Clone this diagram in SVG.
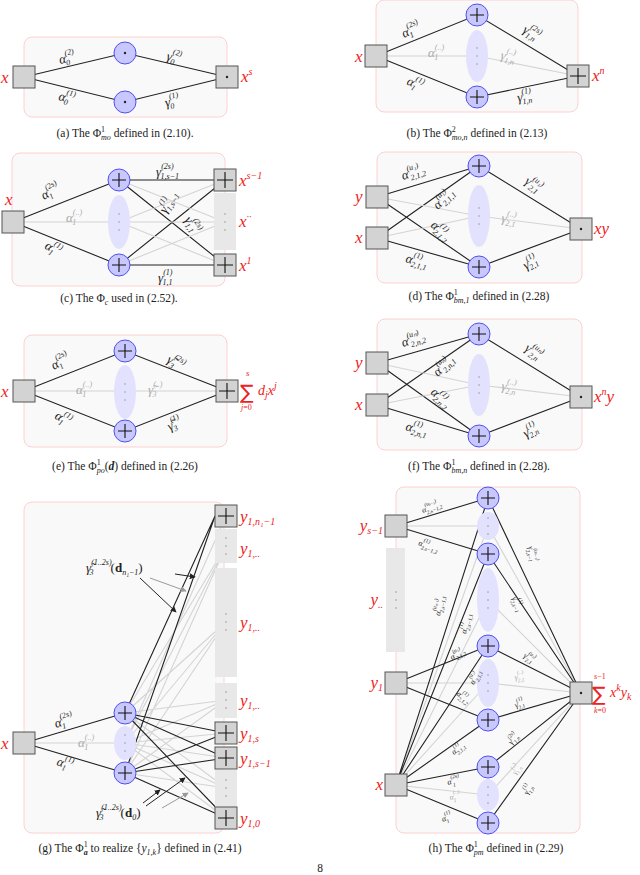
<svg xmlns="http://www.w3.org/2000/svg" width="640" height="875" viewBox="0 0 640 875">
<style>
.bx{fill:#f9f9f9;stroke:#ffd0d0;stroke-width:1}
.k{stroke:#222;stroke-width:1.1;fill:none}
.g{stroke:#d4d4d4;stroke-width:1.1;fill:none}
.ci{fill:#c8c8ff;stroke:#5050f0;stroke-width:1}
.el{fill:#e2e2ff;stroke:none}
.sq{fill:#d3d3d3;stroke:#555;stroke-width:1}
.gr{fill:#e8e8e8;stroke:none}
.pl{stroke:#111;stroke-width:1.1}
.dt{fill:#999}
.m{font-family:"Liberation Serif",serif;font-style:italic;font-size:13px;fill:#222}
.mg{font-family:"Liberation Serif",serif;font-style:italic;font-size:13px;fill:#aaa}
.s{font-size:8px}
.h{font-family:"Liberation Serif",serif;font-style:italic;font-size:8px;fill:#222}
.hg{font-family:"Liberation Serif",serif;font-style:italic;font-size:8px;fill:#aaa}
.t{font-size:5.5px}
.r{font-family:"Liberation Serif",serif;font-style:italic;font-size:17px;fill:#ee2222}
.rs{font-size:10px}
.cap{font-family:"Liberation Serif",serif;font-size:11.5px;fill:#222;text-anchor:middle}
.ar{stroke:#222;stroke-width:1;marker-end:url(#ah)}
.arg{stroke:#999;stroke-width:1;marker-end:url(#ahg)}
</style>
<defs>
<marker id="ah" viewBox="0 0 8 8" refX="7" refY="4" markerWidth="6" markerHeight="6" orient="auto"><path d="M0,0 L8,4 L0,8 z" fill="#222"/></marker>
<marker id="ahg" viewBox="0 0 8 8" refX="7" refY="4" markerWidth="6" markerHeight="6" orient="auto"><path d="M0,0 L8,4 L0,8 z" fill="#999"/></marker>
<g id="plusc"><circle class="ci" r="11"/><path class="pl" d="M-7,0H7M0,-7V7"/></g>
<g id="dotc"><circle class="ci" r="11"/><circle r="1.2" fill="#222"/></g>
<g id="sqe"><rect class="sq" x="-11" y="-11" width="22" height="22"/></g>
<g id="sqp"><rect class="sq" x="-11" y="-11" width="22" height="22"/><path class="pl" d="M-8,0H8M0,-8V8"/></g>
<g id="sqd"><rect class="sq" x="-11" y="-11" width="22" height="22"/><circle r="1.2" fill="#222"/></g>
<g id="dots"><circle class="dt" cy="-8" r="0.8"/><circle class="dt" r="0.8"/><circle class="dt" cy="8" r="0.8"/></g>
</defs>

<g id="boxes">
<rect class="bx" x="24" y="37" width="203" height="80" rx="8"/>
<rect class="bx" x="376" y="0" width="202" height="112" rx="8"/>
<rect class="bx" x="12" y="153" width="213" height="133" rx="8"/>
<rect class="bx" x="377" y="152" width="205" height="131" rx="8"/>
<rect class="bx" x="24" y="335" width="203" height="112" rx="8"/>
<rect class="bx" x="377" y="319" width="205" height="131" rx="8"/>
<rect class="bx" x="24" y="502" width="200" height="331" rx="8"/>
<rect class="bx" x="396" y="487" width="184" height="346" rx="8"/>
</g>

<g id="connectors">
<path class="k" d="M24,77L125,53L227,77L125,102Z"/>
<path class="k" d="M376,56L477,15L578,76L477,97Z"/>
<path class="g" d="M376,56L477,56L578,76"/>
<path class="k" d="M13,222L119,180M13,222L119,265M119,180L225,180M119,180L225,265M119,265L225,180M119,265L225,265"/>
<path class="g" d="M13,222L119,222M119,222L225,180M119,222L225,265M119,180L225,222M119,265L225,222M119,222L225,222"/>
<path class="k" d="M377,197L479,166M377,197L479,267M377,238L479,166M377,238L479,267M479,166L581,229M479,267L581,229"/>
<path class="g" d="M377,197L479,216M377,238L479,216M479,216L581,229"/>
<path class="k" d="M24,391L125,351L227,391L125,431Z"/>
<path class="g" d="M24,391L227,391"/>
<path class="k" d="M377,363L479,334M377,363L479,436M377,405L479,334M377,405L479,436M479,334L581,397M479,436L581,397"/>
<path class="g" d="M377,363L479,385M377,405L479,385M479,385L581,397"/>
<path class="g" d="M24,743L125,743M125,713L226,546M125,773L226,546M125,743L226,546M125,713L226,622M125,773L226,622M125,743L226,622M125,713L226,700M125,773L226,700M125,743L226,700M125,713L226,788M125,773L226,788M125,743L226,788M125,743L226,733M125,743L226,758M125,743L226,818M125,743L226,516"/>
<path class="k" d="M24,743L125,713M24,743L125,773M125,713L215,516M125,773L215,516M125,713L226,733M125,713L226,758M125,713L226,818M125,773L226,733M125,773L226,758M125,773L226,818"/>
<path class="g" d="M396,526L488,526M396,683L488,683M396,785L488,795M396,785L488,683M396,785L488,600M396,785L488,526M488,526L581,693M488,600L581,693M488,683L581,693M488,795L581,693"/>
<path class="k" d="M396,526L488,498M396,526L488,554M396,683L488,646M396,683L488,720M396,785L488,767M396,785L488,823M396,785L488,720M396,785L488,646M396,785L488,554M396,785L488,498M488,498L581,693M488,554L581,693M488,646L581,693M488,720L581,693M488,767L581,693M488,823L581,693"/>
<path class="ar" d="M175,574L195,577"/>
<path class="arg" d="M150,578L186,591"/>
<path class="ar" d="M140,578L176,612"/>
<path class="ar" d="M143,803L160,790"/>
<path class="ar" d="M146,806L185,778"/>
<path class="arg" d="M162,808L188,793"/>
</g>

<g id="a-nodes">
<use href="#sqe" x="24" y="77"/><use href="#dotc" x="125" y="53"/><use href="#dotc" x="125" y="102"/><use href="#sqd" x="227" y="77"/>
</g>
<g id="b-nodes">
<ellipse class="el" cx="477" cy="56" rx="11" ry="26"/><use href="#dots" x="477" y="56"/>
<use href="#sqe" x="376" y="56"/><use href="#plusc" x="477" y="15"/><use href="#plusc" x="477" y="97"/><use href="#sqp" x="578" y="76"/>
</g>
<g id="c-nodes">
<ellipse class="el" cx="119" cy="222" rx="11" ry="27"/><use href="#dots" x="119" y="222"/>
<rect class="gr" x="214" y="193" width="22" height="57"/><use href="#dots" x="225" y="222"/>
<use href="#sqe" x="13" y="222"/><use href="#plusc" x="119" y="180"/><use href="#plusc" x="119" y="265"/><use href="#sqp" x="225" y="180"/><use href="#sqp" x="225" y="265"/>
</g>
<g id="d-nodes">
<ellipse class="el" cx="479" cy="216" rx="11" ry="31"/><use href="#dots" x="479" y="216"/>
<use href="#sqe" x="377" y="197"/><use href="#sqe" x="377" y="238"/><use href="#plusc" x="479" y="166"/><use href="#plusc" x="479" y="267"/><use href="#sqd" x="581" y="229"/>
</g>
<g id="e-nodes">
<ellipse class="el" cx="125" cy="392" rx="11" ry="27"/><use href="#dots" x="125" y="392"/>
<use href="#sqe" x="24" y="391"/><use href="#plusc" x="125" y="351"/><use href="#plusc" x="125" y="431"/><use href="#sqp" x="227" y="391"/>
</g>
<g id="f-nodes">
<ellipse class="el" cx="479" cy="385" rx="11" ry="31"/><use href="#dots" x="479" y="385"/>
<use href="#sqe" x="377" y="363"/><use href="#sqe" x="377" y="405"/><use href="#plusc" x="479" y="334"/><use href="#plusc" x="479" y="436"/><use href="#sqd" x="581" y="397"/>
</g>
<g id="g-nodes">
<ellipse class="el" cx="125" cy="743" rx="11" ry="17"/><use href="#dots" x="125" y="743"/>
<rect class="gr" x="215" y="529" width="22" height="34"/><use href="#dots" x="226" y="546"/>
<rect class="gr" x="215" y="568" width="22" height="109"/><use href="#dots" x="226" y="622"/>
<rect class="gr" x="215" y="683" width="22" height="35"/><use href="#dots" x="226" y="700"/>
<rect class="gr" x="215" y="770" width="22" height="37"/><use href="#dots" x="226" y="788"/>
<use href="#sqe" x="24" y="743"/><use href="#plusc" x="125" y="713"/><use href="#plusc" x="125" y="773"/>
<use href="#sqp" x="226" y="516"/><use href="#sqp" x="226" y="733"/><use href="#sqp" x="226" y="758"/><use href="#sqp" x="226" y="818"/>
</g>
<g id="h-nodes">
<ellipse class="el" cx="488" cy="526" rx="11" ry="14"/><use href="#dots" x="488" y="526"/>
<ellipse class="el" cx="488" cy="600" rx="11" ry="32"/><use href="#dots" x="488" y="600"/>
<ellipse class="el" cx="488" cy="683" rx="11" ry="24"/><use href="#dots" x="488" y="683"/>
<ellipse class="el" cx="488" cy="795" rx="11" ry="16"/><use href="#dots" x="488" y="795"/>
<rect class="gr" x="386" y="548" width="19" height="104"/><use href="#dots" x="396" y="600"/>
<use href="#sqe" x="396" y="526"/><use href="#sqe" x="396" y="683"/><use href="#sqe" x="396" y="785"/>
<use href="#plusc" x="488" y="498"/><use href="#plusc" x="488" y="554"/><use href="#plusc" x="488" y="646"/><use href="#plusc" x="488" y="720"/><use href="#plusc" x="488" y="767"/><use href="#plusc" x="488" y="823"/>
<use href="#sqd" x="581" y="693"/>
</g>

<g id="labels">
<text class="r" x="1" y="83">x</text>
<text class="r" x="241" y="82">x<tspan class="rs" dy="-7">s</tspan></text>
<text class="m" x="60" y="64" transform="rotate(-13 60 64)">α<tspan class="s" dy="-7">(2)</tspan><tspan class="s" dx="-10" dy="10">0</tspan></text>
<text class="m" x="58" y="100" transform="rotate(13 58 100)">α<tspan class="s" dy="-7">(1)</tspan><tspan class="s" dx="-10" dy="10">0</tspan></text>
<text class="m" x="166" y="60" transform="rotate(13 166 60)">γ<tspan class="s" dy="-7">(2)</tspan><tspan class="s" dx="-10" dy="10">0</tspan></text>
<text class="m" x="166" y="107" transform="rotate(-13 166 107)">γ<tspan class="s" dy="-7">(1)</tspan><tspan class="s" dx="-10" dy="10">0</tspan></text>
<text class="cap" x="125" y="137">(a) The Φ<tspan font-size="8" dy="-5">1</tspan><tspan font-style="italic" font-size="8" dx="-4" dy="8">mo</tspan><tspan dy="-3"> defined in (2.10).</tspan></text>
<text class="r" x="355" y="62">x</text>
<text class="r" x="592" y="81">x<tspan class="rs" dy="-7">n</tspan></text>
<text class="m" x="404" y="38" transform="rotate(-25 404 38)">α<tspan class="s" dy="-7">(2s)</tspan><tspan class="s" dx="-13" dy="10">1</tspan></text>
<text class="mg" x="428" y="57">α<tspan class="s" dy="-7">(..)</tspan><tspan class="s" dx="-10" dy="10">1</tspan></text>
<text class="m" x="406" y="84" transform="rotate(25 406 84)">α<tspan class="s" dy="-7">(1)</tspan><tspan class="s" dx="-10" dy="10">1</tspan></text>
<text class="m" x="522" y="32" transform="rotate(30 522 32)">γ<tspan class="s" dy="-7">(2s)</tspan><tspan class="s" dx="-13" dy="10">1,n</tspan></text>
<text class="mg" x="500" y="59" transform="rotate(12 500 59)">γ<tspan class="s" dy="-7">(..)</tspan><tspan class="s" dx="-10" dy="10">1,n</tspan></text>
<text class="m" x="518" y="102" transform="rotate(-10 518 102)">γ<tspan class="s" dy="-7">(1)</tspan><tspan class="s" dx="-10" dy="10">1,n</tspan></text>
<text class="cap" x="477" y="137">(b) The Φ<tspan font-size="8" dy="-5">2</tspan><tspan font-style="italic" font-size="8" dx="-4" dy="8">mo,n</tspan><tspan dy="-3"> defined in (2.13)</tspan></text>
<text class="r" x="5" y="205">x</text>
<text class="r" x="239" y="186">x<tspan class="rs" dy="-7">s−1</tspan></text>
<text class="r" x="239" y="227">x<tspan class="rs" dy="-7">··</tspan></text>
<text class="r" x="239" y="271">x<tspan class="rs" dy="-7">1</tspan></text>
<text class="m" x="44" y="200" transform="rotate(-30 44 200)">α<tspan class="s" dy="-7">(2s)</tspan><tspan class="s" dx="-13" dy="10">1</tspan></text>
<text class="mg" x="66" y="222">α<tspan class="s" dy="-7">(..)</tspan><tspan class="s" dx="-10" dy="10">1</tspan></text>
<text class="m" x="44" y="248" transform="rotate(30 44 248)">α<tspan class="s" dy="-7">(1)</tspan><tspan class="s" dx="-10" dy="10">1</tspan></text>
<text class="m" x="156" y="176">γ<tspan class="s" dy="-7">(2s)</tspan><tspan class="s" dx="-13" dy="10">1,s−1</tspan></text>
<text class="m" x="158" y="282">γ<tspan class="s" dy="-7">(1)</tspan><tspan class="s" dx="-10" dy="10">1,1</tspan></text>
<text class="m" x="166" y="214" transform="rotate(-60 166 214)">γ<tspan class="s" dy="-7">(1)</tspan><tspan class="s" dx="-10" dy="10">1,s−1</tspan></text>
<text class="m" x="184" y="220" transform="rotate(55 184 220)">γ<tspan class="s" dy="-7">(2s)</tspan><tspan class="s" dx="-13" dy="10">1,1</tspan></text>
<text class="cap" x="119" y="302">(c) The Φ<tspan font-style="italic" font-size="8" dy="3">c</tspan><tspan dy="-3"> used in (2.52).</tspan></text>
<text class="r" x="355" y="202">y</text>
<text class="r" x="355" y="243">x</text>
<text class="r" x="594" y="234">xy</text>
<text class="m" x="403" y="180" transform="rotate(-18 403 180)">α<tspan class="s" dy="-7">(u₁)</tspan><tspan class="s" dx="-11" dy="10">2,1,2</tspan></text>
<text class="m" x="438" y="210" transform="rotate(-45 438 210)">α<tspan class="s" dy="-7">(u₁)</tspan><tspan class="s" dx="-11" dy="10">2,1,1</tspan></text>
<text class="m" x="430" y="226" transform="rotate(45 430 226)">α<tspan class="s" dy="-7">(1)</tspan><tspan class="s" dx="-10" dy="10">2,1,2</tspan></text>
<text class="m" x="405" y="262" transform="rotate(15 405 262)">α<tspan class="s" dy="-7">(1)</tspan><tspan class="s" dx="-10" dy="10">2,1,1</tspan></text>
<text class="m" x="524" y="183" transform="rotate(35 524 183)">γ<tspan class="s" dy="-7">(u₁)</tspan><tspan class="s" dx="-11" dy="10">2,1</tspan></text>
<text class="mg" x="501" y="222" transform="rotate(8 501 222)">γ<tspan class="s" dy="-7">(..)</tspan><tspan class="s" dx="-10" dy="10">2,1</tspan></text>
<text class="m" x="526" y="270" transform="rotate(-30 526 270)">γ<tspan class="s" dy="-7">(1)</tspan><tspan class="s" dx="-10" dy="10">2,1</tspan></text>
<text class="cap" x="479" y="300">(d) The Φ<tspan font-size="8" dy="-5">1</tspan><tspan font-style="italic" font-size="8" dx="-4" dy="8">bm,1</tspan><tspan dy="-3"> defined in (2.28)</tspan></text>
<text class="r" x="1" y="397">x</text>
<text x="240" y="399" font-family="DejaVu Sans,sans-serif" font-size="20" fill="#ee2222">∑</text>
<text class="r" x="246" y="376" style="font-size:9px">s</text>
<text class="r" x="241" y="410" style="font-size:8px;font-style:normal"><tspan font-style="italic">j</tspan>=0</text>
<text class="r" x="258" y="395" style="font-size:14px">d<tspan class="rs" dy="3">j</tspan><tspan dy="-3">x</tspan><tspan class="rs" dy="-6">j</tspan></text>
<text class="m" x="54" y="370" transform="rotate(-30 54 370)">α<tspan class="s" dy="-7">(2s)</tspan><tspan class="s" dx="-13" dy="10">1</tspan></text>
<text class="mg" x="76" y="394">α<tspan class="s" dy="-7">(..)</tspan><tspan class="s" dx="-10" dy="10">1</tspan></text>
<text class="m" x="54" y="418" transform="rotate(30 54 418)">α<tspan class="s" dy="-7">(1)</tspan><tspan class="s" dx="-10" dy="10">1</tspan></text>
<text class="m" x="166" y="362" transform="rotate(30 166 362)">γ̃<tspan class="s" dy="-7">(2s)</tspan><tspan class="s" dx="-13" dy="10">3</tspan></text>
<text class="mg" x="148" y="394">γ̃<tspan class="s" dy="-7">(..)</tspan><tspan class="s" dx="-10" dy="10">3</tspan></text>
<text class="m" x="170" y="431" transform="rotate(-28 170 431)">γ̃<tspan class="s" dy="-7">(1)</tspan><tspan class="s" dx="-10" dy="10">3</tspan></text>
<text class="cap" x="125" y="470">(e) The Φ<tspan font-size="8" dy="-5">1</tspan><tspan font-style="italic" font-size="8" dx="-4" dy="8">po</tspan><tspan dy="-3">(</tspan><tspan font-weight="bold" font-style="italic">d</tspan>) defined in (2.26)</text>
<text class="r" x="355" y="368">y</text>
<text class="r" x="355" y="410">x</text>
<text class="r" x="594" y="402">x<tspan class="rs" dy="-7">n</tspan><tspan dy="7">y</tspan></text>
<text class="m" x="403" y="347" transform="rotate(-18 403 347)">α<tspan class="s" dy="-7">(uₙ)</tspan><tspan class="s" dx="-11" dy="10">2,n,2</tspan></text>
<text class="m" x="438" y="377" transform="rotate(-45 438 377)">α<tspan class="s" dy="-7">(uₙ)</tspan><tspan class="s" dx="-11" dy="10">2,n,1</tspan></text>
<text class="m" x="430" y="393" transform="rotate(45 430 393)">α<tspan class="s" dy="-7">(1)</tspan><tspan class="s" dx="-10" dy="10">2,n,2</tspan></text>
<text class="m" x="405" y="430" transform="rotate(15 405 430)">α<tspan class="s" dy="-7">(1)</tspan><tspan class="s" dx="-10" dy="10">2,n,1</tspan></text>
<text class="m" x="524" y="350" transform="rotate(35 524 350)">γ<tspan class="s" dy="-7">(uₙ)</tspan><tspan class="s" dx="-11" dy="10">2,n</tspan></text>
<text class="mg" x="501" y="390" transform="rotate(8 501 390)">γ<tspan class="s" dy="-7">(..)</tspan><tspan class="s" dx="-10" dy="10">2,n</tspan></text>
<text class="m" x="526" y="438" transform="rotate(-30 526 438)">γ<tspan class="s" dy="-7">(1)</tspan><tspan class="s" dx="-10" dy="10">2,n</tspan></text>
<text class="cap" x="479" y="470">(f) The Φ<tspan font-size="8" dy="-5">1</tspan><tspan font-style="italic" font-size="8" dx="-4" dy="8">bm,n</tspan><tspan dy="-3"> defined in (2.28).</tspan></text>
<text class="r" x="1" y="749">x</text>
<text class="r" x="240" y="522">y<tspan class="rs" dy="3">1,n₁−1</tspan></text>
<text class="r" x="240" y="554">y<tspan class="rs" dy="3">1,..</tspan></text>
<text class="r" x="240" y="628">y<tspan class="rs" dy="3">1,..</tspan></text>
<text class="r" x="240" y="706">y<tspan class="rs" dy="3">1,..</tspan></text>
<text class="r" x="240" y="739">y<tspan class="rs" dy="3">1,s</tspan></text>
<text class="r" x="240" y="764">y<tspan class="rs" dy="3">1,s−1</tspan></text>
<text class="r" x="240" y="824">y<tspan class="rs" dy="3">1,0</tspan></text>
<text class="m" x="56" y="728" transform="rotate(-18 56 728)">α<tspan class="s" dy="-7">(2s)</tspan><tspan class="s" dx="-13" dy="10">1</tspan></text>
<text class="mg" x="78" y="747">α<tspan class="s" dy="-7">(..)</tspan><tspan class="s" dx="-10" dy="10">1</tspan></text>
<text class="m" x="56" y="765" transform="rotate(18 56 765)">α<tspan class="s" dy="-7">(1)</tspan><tspan class="s" dx="-10" dy="10">1</tspan></text>
<text class="m" x="86" y="572">γ̃<tspan class="s" dy="-7">(1..2s)</tspan><tspan class="s" dx="-22" dy="10">3</tspan><tspan dx="17" dy="-3" font-style="normal">(<tspan font-weight="bold">d</tspan></tspan><tspan class="s" dy="3">n₁−1</tspan><tspan dy="-3" font-style="normal">)</tspan></text>
<text class="m" x="96" y="817">γ̃<tspan class="s" dy="-7">(1..2s)</tspan><tspan class="s" dx="-22" dy="10">3</tspan><tspan dx="17" dy="-3" font-style="normal">(<tspan font-weight="bold">d</tspan></tspan><tspan class="s" dy="3">0</tspan><tspan dy="-3" font-style="normal">)</tspan></text>
<text class="cap" x="140" y="852">(g) The Φ<tspan font-size="8" dy="-5">1</tspan><tspan font-style="italic" font-weight="bold" font-size="8" dx="-4" dy="8">a</tspan><tspan dy="-3"> to realize {</tspan><tspan font-style="italic">y</tspan><tspan font-style="italic" font-size="8" dy="3">1,k</tspan><tspan dy="-3">} defined in (2.41)</tspan></text>
<text class="r" x="383" y="531" text-anchor="end">y<tspan class="rs" dy="3">s−1</tspan></text>
<text class="r" x="383" y="605" text-anchor="end">y<tspan class="rs" dy="3">..</tspan></text>
<text class="r" x="383" y="688" text-anchor="end">y<tspan class="rs" dy="3">1</tspan></text>
<text class="r" x="383" y="790" text-anchor="end">x</text>
<text x="592" y="701" font-family="DejaVu Sans,sans-serif" font-size="20" fill="#ee2222">∑</text>
<text class="r" x="594" y="679" style="font-size:8px;font-style:normal"><tspan font-style="italic">s</tspan>−1</text>
<text class="r" x="594" y="713" style="font-size:8px;font-style:normal"><tspan font-style="italic">k</tspan>=0</text>
<text class="r" x="610" y="697" style="font-size:14px">x<tspan class="rs" dy="-6">k</tspan><tspan dy="6">y</tspan><tspan class="rs" dy="3">k</tspan></text>
<text class="h" x="423" y="513" transform="rotate(-22 423 513)">α<tspan class="t" dy="-5">(uₛ₋₁)</tspan><tspan class="t" dx="-13" dy="8">2,s−1,2</tspan></text>
<text class="h" x="418" y="545" transform="rotate(18 418 545)">α<tspan class="t" dy="-5">(1)</tspan><tspan class="t" dx="-7" dy="8">2,s−1,2</tspan></text>
<text class="h" x="440" y="616" transform="rotate(-80 440 616)">α<tspan class="t" dy="-5">(uₛ₋₁)</tspan><tspan class="t" dx="-13" dy="8">2,s−1,1</tspan></text>
<text class="h" x="466" y="634" transform="rotate(-78 466 634)">α<tspan class="t" dy="-5">(1)</tspan><tspan class="t" dx="-7" dy="8">2,s−1,1</tspan></text>
<text class="h" x="452" y="660" transform="rotate(-30 452 660)">α<tspan class="t" dy="-5">(u₁)</tspan><tspan class="t" dx="-8" dy="8">2,1,2</tspan></text>
<text class="h" x="474" y="685" transform="rotate(-65 474 685)">α<tspan class="t" dy="-5">(u₁)</tspan><tspan class="t" dx="-8" dy="8">2,1,1</tspan></text>
<text class="h" x="456" y="695" transform="rotate(35 456 695)">α<tspan class="t" dy="-5">(1)</tspan><tspan class="t" dx="-7" dy="8">2,1,2</tspan></text>
<text class="h" x="454" y="755" transform="rotate(-40 454 755)">α<tspan class="t" dy="-5">(1)</tspan><tspan class="t" dx="-7" dy="8">2,1,1</tspan></text>
<text class="h" x="448" y="785" transform="rotate(-15 448 785)">α<tspan class="t" dy="-5">(2s)</tspan><tspan class="t" dx="-8" dy="8">1</tspan></text>
<text class="hg" x="450" y="800" transform="rotate(-10 450 800)">α<tspan class="t" dy="-5">(..)</tspan><tspan class="t" dx="-7" dy="8">1</tspan></text>
<text class="h" x="443" y="822" transform="rotate(-25 443 822)">α<tspan class="t" dy="-5">(1)</tspan><tspan class="t" dx="-7" dy="8">1</tspan></text>
<text class="h" x="528" y="547" transform="rotate(75 528 547)">γ<tspan class="t" dy="-5">(uₛ₋₁)</tspan><tspan class="t" dx="-13" dy="8">2,s−1</tspan></text>
<text class="h" x="512" y="598" transform="rotate(65 512 598)">γ<tspan class="t" dy="-5">(1)</tspan><tspan class="t" dx="-7" dy="8">2,s−1</tspan></text>
<text class="h" x="523" y="657" transform="rotate(30 523 657)">γ<tspan class="t" dy="-5">(u₁)</tspan><tspan class="t" dx="-8" dy="8">2,1</tspan></text>
<text class="hg" x="515" y="680" transform="rotate(-10 515 680)">γ<tspan class="t" dy="-5">(..)</tspan><tspan class="t" dx="-7" dy="8">2,1</tspan></text>
<text class="h" x="516" y="708" transform="rotate(-25 516 708)">γ<tspan class="t" dy="-5">(1)</tspan><tspan class="t" dx="-7" dy="8">2,1</tspan></text>
<text class="h" x="512" y="745" transform="rotate(-55 512 745)">γ<tspan class="t" dy="-5">(2s)</tspan><tspan class="t" dx="-8" dy="8">1,n</tspan></text>
<text class="hg" x="516" y="775" transform="rotate(-62 516 775)">γ<tspan class="t" dy="-5">(..)</tspan><tspan class="t" dx="-7" dy="8">1,n</tspan></text>
<text class="h" x="528" y="795" transform="rotate(-65 528 795)">γ<tspan class="t" dy="-5">(1)</tspan><tspan class="t" dx="-7" dy="8">1,n</tspan></text>
<text class="cap" x="496" y="852">(h) The Φ<tspan font-size="8" dy="-5">1</tspan><tspan font-style="italic" font-size="8" dx="-4" dy="8">pm</tspan><tspan dy="-3"> defined in (2.29)</tspan></text>
<text class="cap" x="320" y="872" font-size="13">8</text>
</g>
</svg>
